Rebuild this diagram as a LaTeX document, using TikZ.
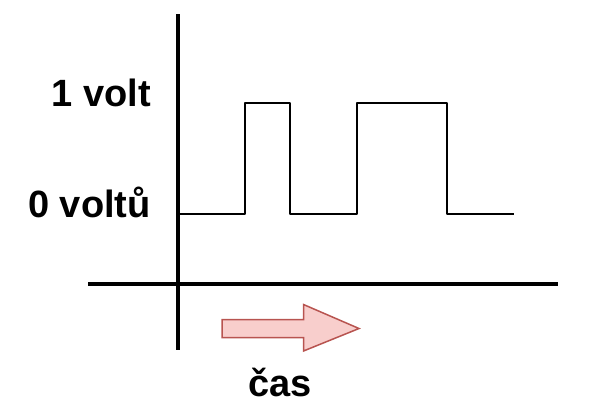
\documentclass[tikz,border=0pt]{standalone}
\usepackage{fontspec}
\setmainfont{Liberation Sans}
\definecolor{arrfill}{HTML}{F8CECC}
\definecolor{arrdraw}{HTML}{B85450}
\begin{document}
\begin{tikzpicture}[x=1pt,y=-1pt,
  axis/.style={line width=4pt},
  sig/.style={line width=2pt,line join=round},
  lbl/.style={font=\fontsize{38}{42}\selectfont\bfseries,inner sep=0pt}]
\useasboundingbox (0,0) rectangle (592,416);
% axes
\coordinate (ytop) at (178,14);
\coordinate (ybot) at (178,350);
\coordinate (xl) at (88,284);
\coordinate (xr) at (558,284);
\draw[axis] (ytop) -- (ybot);
\draw[axis] (xl) -- (xr);
% signal
\coordinate (s0) at (180,214);
\coordinate (s1) at (514,214);
\draw[sig] (s0) -- (245,214) -- (245,103) -- (290,103) -- (290,214) -- (357,214) -- (357,103) -- (447,103) -- (447,214) -- (s1);
% labels
\node[lbl,anchor=base east] (one) at (151,106) {1 volt};
\node[lbl,anchor=base east] (zero) at (151,217) {0 voltů};
\node[lbl,anchor=base] (cas) at (280,396) {čas};
% arrow
\draw[arrdraw,fill=arrfill,line width=1.5pt,line join=miter]
  (222,319.5) -- (303.5,319.5) -- (303.5,304.5) -- (359,328.5) -- (303.5,351) -- (303.5,337.5) -- (222,337.5) -- cycle;
\end{tikzpicture}
\end{document}
